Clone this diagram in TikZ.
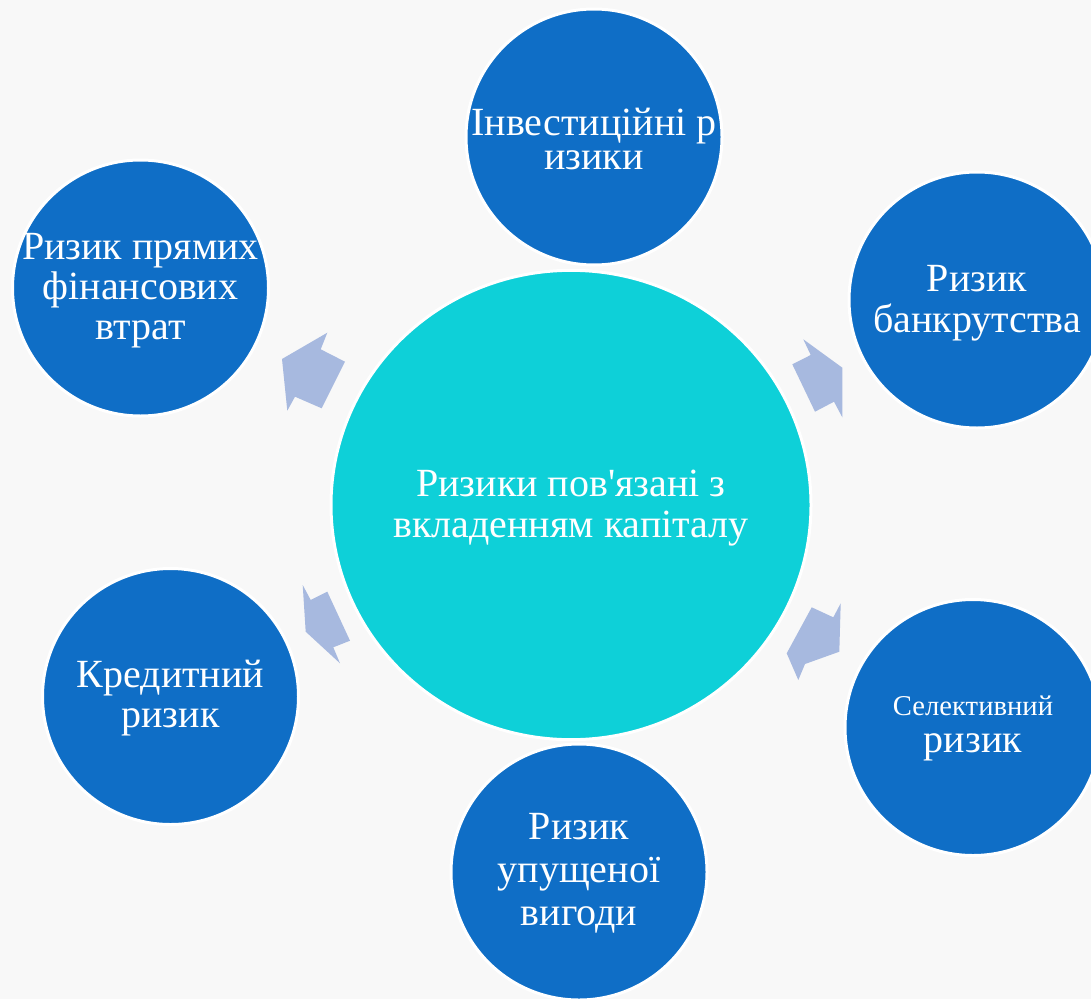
\documentclass[tikz,border=0pt]{standalone}
\usepackage{fontspec}
\setmainfont{Liberation Serif}
\newfontfamily\plainserif{Liberation Serif}
\usetikzlibrary{shapes.geometric}
\definecolor{bgc}{HTML}{F8F8F8}
\definecolor{outerblue}{HTML}{0F6EC6}
\definecolor{centercyan}{HTML}{0ED0D8}
\definecolor{arrowc}{HTML}{A7B9DF}
\tikzset{
  outer/.style={circle, fill=outerblue, draw=white, line width=2.25pt, minimum size=192pt, inner sep=0pt},
  hub/.style={ellipse, fill=centercyan, draw=white, line width=2.25pt, minimum width=360pt, minimum height=352pt, inner sep=0pt},
  lbl/.style={text=white, align=center, inner sep=0pt},
  blockarrow/.style={fill=arrowc, draw=none}
}
\begin{document}
\begin{tikzpicture}[x=0.75pt, y=-0.75pt]
\useasboundingbox (0,0) rectangle (1091,999);
\clip (0,0) rectangle (1091,999);
\fill[bgc] (0,0) rectangle (1091,999);

% central hub
\node[hub] (hub) at (571,505) {};
\node[lbl, font=\plainserif\fontsize{30}{30.3}\selectfont, yshift=-2.3pt] (hubtext) at (hub) {Ризики пов'язані з\\ вкладенням капіталу};

% outer circles
\node[outer] (invest) at (594,137) {};
\node[outer] (bankr) at (977,300) {};
\node[outer] (direct) at (140.5,288) {};
\node[outer] (credit) at (170.5,696.5) {};
\node[outer] (lost) at (579,872) {};
\node[outer] (select) at (973,727.5) {};

\node[lbl, font=\plainserif\fontsize{30}{25.5}\selectfont, yshift=-1.5pt] (investtext) at (invest) {Інвестиційні р\\ изики};
\node[lbl, font=\plainserif\fontsize{30}{30.7}\selectfont, yshift=-2.4pt] (bankrtext) at (bankr) {Ризик\\ банкрутства};
\node[lbl, font=\plainserif\fontsize{30}{30}\selectfont, yshift=-2.2pt] (directtext) at (direct) {Ризик прямих\\ фінансових\\ втрат};
\node[lbl, font=\plainserif\fontsize{30}{30}\selectfont, yshift=-1.5pt] (credittext) at (credit) {Кредитний\\ ризик};
\node[lbl, font=\plainserif\fontsize{30}{32.4}\selectfont, yshift=-1.1pt] (losttext) at (lost) {Ризик\\ упущеної\\ вигоди};
\node[lbl, font=\plainserif\fontsize{30}{28.2}\selectfont, yshift=-0.6pt] (selecttext) at (select) {{\fontsize{21.5}{21.5}\selectfont Селективний}\\ ризик};

% block arrows
\fill[blockarrow] (327.3,332.7) -- (320.7,349.3) -- (345,361.7) -- (321.7,408.3) -- (295,396.7) -- (287.3,410.7) -- (282,359) -- cycle;
\fill[blockarrow] (803.3,339.3) -- (810.7,355) -- (792.3,364.3) -- (815,411.7) -- (834,401.7) -- (842.3,417.3) -- (842.3,367.7) -- cycle;
\fill[blockarrow] (302.7,585) -- (310.7,600) -- (327.3,591.7) -- (350,640.7) -- (333.3,647.3) -- (340,663.3) -- (305.7,631.7) -- cycle;
\fill[blockarrow] (811.7,607.3) -- (833.3,617.3) -- (840.7,603.3) -- (839.3,651.7) -- (805,664) -- (798.3,680) -- (786.7,653.3) -- cycle;
\end{tikzpicture}
\end{document}
